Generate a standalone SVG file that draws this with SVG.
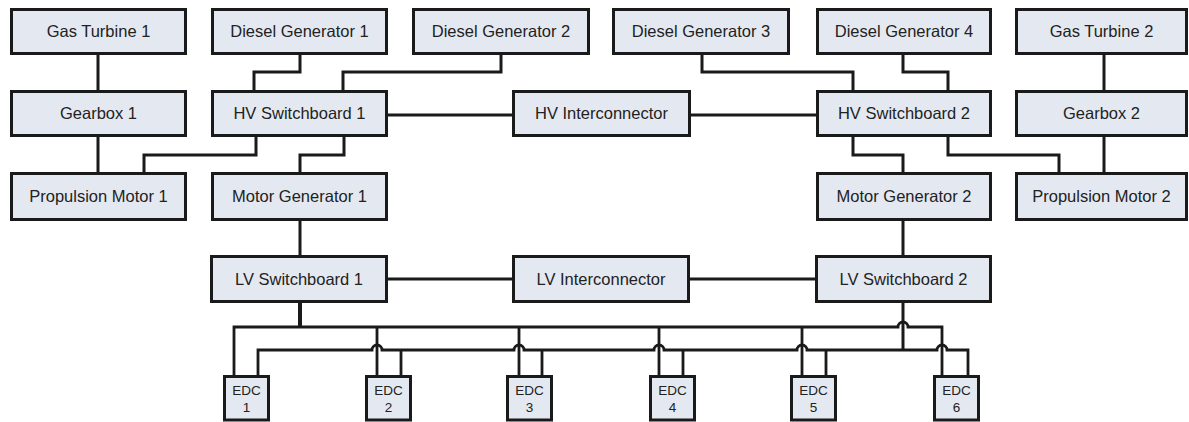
<svg xmlns="http://www.w3.org/2000/svg" width="1189" height="422" viewBox="0 0 1189 422">
<style>
.box{fill:#e4e9f1;stroke:#1a1a1a;stroke-width:3}
.lbl{font-family:"Liberation Sans",Arial,sans-serif;font-size:16.5px;fill:#222;text-anchor:middle}
.sm{font-family:"Liberation Sans",Arial,sans-serif;font-size:13.5px;fill:#222;text-anchor:middle}
.c{fill:none;stroke:#1a1a1a;stroke-width:3}
.b{fill:none;stroke:#1a1a1a;stroke-width:2.8}
</style>
<rect width="1189" height="422" fill="#ffffff"/>
<g id="connectors">
<path class="c" d="M98 55V90M98 137V172"/>
<path class="c" d="M300 55V72H254V90"/>
<path class="c" d="M501 55V72H343V90"/>
<path class="c" d="M256 137V155H144V172"/>
<path class="c" d="M344 137V155H300V172"/>
<path class="c" d="M388 115H512M691 115H816"/>
<path class="c" d="M702 55V72H853V90"/>
<path class="c" d="M903 55V72H948V90"/>
<path class="c" d="M853 137V155H903V172"/>
<path class="c" d="M948 137V155H1059V172"/>
<path class="c" d="M1104 55V90M1104 137V172"/>
<path class="c" d="M300 221V255M903 221V255"/>
<path class="c" d="M388 279H512M690 279H815"/>
<path class="c" style="stroke-width:4" d="M300 303V327"/>
<path class="b" d="M234 375V327H898A5 5 0 0 1 908 327H942V375"/>
<path class="b" d="M377 327V375M519 327V375M659 327V375M802 327V375"/>
<path class="c" d="M903 303V350"/>
<path class="b" d="M258 375V350H372A5 5 0 0 1 382 350H514A5 5 0 0 1 524 350H654A5 5 0 0 1 664 350H797A5 5 0 0 1 807 350H937A5 5 0 0 1 947 350H968V375"/>
<path class="b" d="M401 350V375M542 350V375M683 350V375M826 350V375"/>
</g>
<g id="gas-turbine-1"><rect class="box" x="11.5" y="9.5" width="174" height="44"/><text class="lbl" x="98.5" y="37">Gas Turbine 1</text></g>
<g id="diesel-generator-1"><rect class="box" x="212.5" y="9.5" width="174" height="44"/><text class="lbl" x="299.5" y="37">Diesel Generator 1</text></g>
<g id="diesel-generator-2"><rect class="box" x="413.5" y="9.5" width="175" height="44"/><text class="lbl" x="501" y="37">Diesel Generator 2</text></g>
<g id="diesel-generator-3"><rect class="box" x="613.5" y="9.5" width="175" height="44"/><text class="lbl" x="701" y="37">Diesel Generator 3</text></g>
<g id="diesel-generator-4"><rect class="box" x="817.5" y="9.5" width="173" height="44"/><text class="lbl" x="904" y="37">Diesel Generator 4</text></g>
<g id="gas-turbine-2"><rect class="box" x="1016.5" y="9.5" width="170" height="44"/><text class="lbl" x="1101.5" y="37">Gas Turbine 2</text></g>
<g id="gearbox-1"><rect class="box" x="11.5" y="91.5" width="174" height="44"/><text class="lbl" x="98.5" y="119">Gearbox 1</text></g>
<g id="hv-switchboard-1"><rect class="box" x="212.5" y="91.5" width="174" height="44"/><text class="lbl" x="299.5" y="119">HV Switchboard 1</text></g>
<g id="hv-interconnector"><rect class="box" x="513.5" y="91.5" width="176" height="44"/><text class="lbl" x="601.5" y="119">HV Interconnector</text></g>
<g id="hv-switchboard-2"><rect class="box" x="817.5" y="91.5" width="173" height="44"/><text class="lbl" x="904" y="119">HV Switchboard 2</text></g>
<g id="gearbox-2"><rect class="box" x="1016.5" y="91.5" width="170" height="44"/><text class="lbl" x="1101.5" y="119">Gearbox 2</text></g>
<g id="propulsion-motor-1"><rect class="box" x="11.5" y="173.5" width="174" height="46"/><text class="lbl" x="98.5" y="202">Propulsion Motor 1</text></g>
<g id="motor-generator-1"><rect class="box" x="212.5" y="173.5" width="174" height="46"/><text class="lbl" x="299.5" y="202">Motor Generator 1</text></g>
<g id="motor-generator-2"><rect class="box" x="817.5" y="173.5" width="173" height="46"/><text class="lbl" x="904" y="202">Motor Generator 2</text></g>
<g id="propulsion-motor-2"><rect class="box" x="1016.5" y="173.5" width="170" height="46"/><text class="lbl" x="1101.5" y="202">Propulsion Motor 2</text></g>
<g id="lv-switchboard-1"><rect class="box" x="211.5" y="256.5" width="175" height="45"/><text class="lbl" x="299" y="285">LV Switchboard 1</text></g>
<g id="lv-interconnector"><rect class="box" x="513.5" y="256.5" width="175" height="45"/><text class="lbl" x="601" y="285">LV Interconnector</text></g>
<g id="lv-switchboard-2"><rect class="box" x="816.5" y="256.5" width="174" height="45"/><text class="lbl" x="903.5" y="285">LV Switchboard 2</text></g>
<g id="edc-1"><rect class="box" x="224.5" y="376.5" width="44" height="43.5"/><text class="sm" x="246.5" y="395">EDC</text><text class="sm" x="246.5" y="412">1</text></g>
<g id="edc-2"><rect class="box" x="366.5" y="376.5" width="44" height="43.5"/><text class="sm" x="388.5" y="395">EDC</text><text class="sm" x="388.5" y="412">2</text></g>
<g id="edc-3"><rect class="box" x="507.5" y="376.5" width="44" height="43.5"/><text class="sm" x="529.5" y="395">EDC</text><text class="sm" x="529.5" y="412">3</text></g>
<g id="edc-4"><rect class="box" x="650.5" y="376.5" width="44" height="43.5"/><text class="sm" x="672.5" y="395">EDC</text><text class="sm" x="672.5" y="412">4</text></g>
<g id="edc-5"><rect class="box" x="791.5" y="376.5" width="44" height="43.5"/><text class="sm" x="813.5" y="395">EDC</text><text class="sm" x="813.5" y="412">5</text></g>
<g id="edc-6"><rect class="box" x="934.5" y="376.5" width="44" height="43.5"/><text class="sm" x="956.5" y="395">EDC</text><text class="sm" x="956.5" y="412">6</text></g>
</svg>
